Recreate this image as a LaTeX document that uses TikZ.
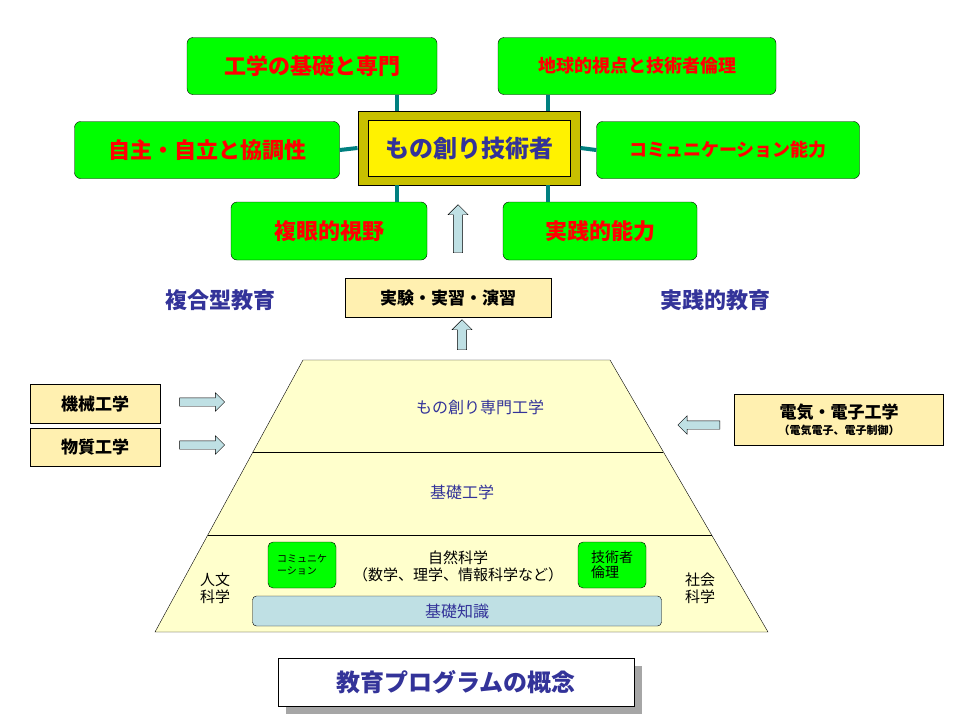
\documentclass[tikz,border=0pt]{standalone}
\usepackage{fontspec}
\setmainfont{Noto Sans CJK JP}
\usetikzlibrary{arrows.meta,positioning,shapes.arrows,calc}
\definecolor{navyT}{HTML}{333399}
\definecolor{greenB}{HTML}{00FF00}
\definecolor{tealL}{HTML}{008080}
\definecolor{paleY}{HTML}{FFFFCC}
\definecolor{paleB}{HTML}{BFE0E4}
\definecolor{tanY}{HTML}{FFF0B0}
\definecolor{oliveY}{HTML}{C8C000}

\begin{document}
\begin{tikzpicture}[x=1pt,y=-1pt,
  gbox/.style = {draw, fill=greenB, rounded corners=6pt, text=red, font=\bfseries\fontsize{22}{24}\selectfont},
  ybox/.style = {draw, fill=tanY, font=\bfseries\fontsize{17}{19}\selectfont},
  side/.style = {text=navyT, font=\bfseries\fontsize{22}{24}\selectfont},
  tier/.style = {text=navyT, font=\fontsize{16}{18}\selectfont},
  link/.style = {tealL, line width=4pt},
  blk/.style  = {draw, fill=paleB, single arrow, single arrow head extend=5pt, minimum height=#1, inner sep=4pt}
]

% ---- frame ----
\useasboundingbox (0,0) rectangle (960,720);

% ---- top: goals ----
\node[draw, fill=oliveY, minimum width=222, minimum height=74, line width=1pt] (core) at (469,148) {};
\node[draw, fill=yellow, minimum width=202, minimum height=56] (inner) at (469,148) {};
\node[text=navyT, font=\bfseries\fontsize{24}{26}\selectfont] (coretext) at (469,148) {もの創り技術者};

\node[gbox, minimum width=250, minimum height=57] (g1) at (312,66) {工学の基礎と専門};
\node[gbox, minimum width=278, minimum height=57, font=\bfseries\fontsize{18}{20}\selectfont] (g2) at (637,66) {地球的視点と技術者倫理};
\node[gbox, minimum width=265, minimum height=57] (g3) at (207,150) {自主・自立と協調性};
\node[gbox, minimum width=263, minimum height=57, font=\bfseries\fontsize{18}{20}\selectfont] (g4) at (728,150) {コミュニケーション能力};
\node[gbox, minimum width=196, minimum height=58] (g5) at (329,231) {複眼的視野};
\node[gbox, minimum width=194, minimum height=58] (g6) at (600,231) {実践的能力};

\coordinate (c1) at (397,111); \coordinate (c2) at (548,111);
\coordinate (c5) at (397,185); \coordinate (c6) at (548,185);
\draw[link] (g1.south -| c1) -- (c1);
\draw[link] (g2.south -| c2) -- (c2);
\draw[link] (g5.north -| c5) -- (c5);
\draw[link] (g6.north -| c6) -- (c6);
\draw[link] (g3.east) -- (core.west);
\draw[link] (g4.west) -- (core.east);

\node[blk=48, shape border rotate=90, minimum width=20] (up1) at (458,231) {};

% ---- middle ----
\node[ybox, minimum width=206, minimum height=39] (lab) at (448,298) {実験・実習・演習};
\node[side] (mix) at (220,300) {複合型教育};
\node[side] (prac) at (715,300) {実践的教育};
\node[blk=30, shape border rotate=90, minimum width=20] (up2) at (462,337) {};

% ---- pyramid ----
\coordinate (t1) at (303,360); \coordinate (t2) at (610,360);
\coordinate (b1) at (155,632); \coordinate (b2) at (768,632);
\draw[fill=paleY] (t1) -- (t2) -- (b2) -- (b1) -- cycle;
\draw ($(t1)!92/272!(b1)$) -- ($(t2)!92/272!(b2)$);
\draw ($(t1)!175/272!(b1)$) -- ($(t2)!175/272!(b2)$);
\node[tier] (pro) at (480,407) {もの創り専門工学};
\node[tier] (base) at (462,492) {基礎工学};

\node[draw, fill=greenB, rounded corners=5pt, minimum width=68, minimum height=46, align=left,
  font=\fontsize{10}{12}\selectfont] (com) at (302,565) {コミュニケ\\ーション};
\node[draw, fill=greenB, rounded corners=5pt, minimum width=68, minimum height=46, align=left,
  font=\fontsize{14}{15}\selectfont] (eth) at (612,565) {技術者\\倫理};
\node[font=\fontsize{15}{17}\selectfont, align=center] (nat) at (458,566) {自然科学\\（数学、理学、情報科学など）};
\node[font=\fontsize{15}{17}\selectfont, align=center] (hum) at (215,588) {人文\\科学};
\node[font=\fontsize{15}{17}\selectfont, align=center] (soc) at (700,588) {社会\\科学};
\node[draw, fill=paleB, rounded corners=4pt, minimum width=409, minimum height=30, tier] (know) at (457,611) {基礎知識};

% ---- sides ----
\node[ybox, minimum width=130, minimum height=39] (mech) at (95,404) {機械工学};
\node[ybox, minimum width=130, minimum height=38] (mat) at (95,447) {物質工学};
\node[ybox, minimum width=209, minimum height=51, align=center] (elec) at (839,420) {電気・電子工学\\[-3pt]{\fontsize{11}{12}\selectfont（電気電子、電子制御）}};
\node[blk=45, minimum width=12] (ar1) at (200,402) {};
\node[blk=45, minimum width=12] (ar2) at (200,445) {};
\node[blk=42, minimum width=14, shape border rotate=180] (ar3) at (701,425) {};

% ---- title ----
\fill[gray!70] (286,666) rectangle (642,714);
\node[draw, fill=white, minimum width=356, minimum height=48, text=navyT,
  font=\bfseries\fontsize{24}{26}\selectfont] (title) at (456,682) {教育プログラムの概念};
\end{tikzpicture}
\end{document}
